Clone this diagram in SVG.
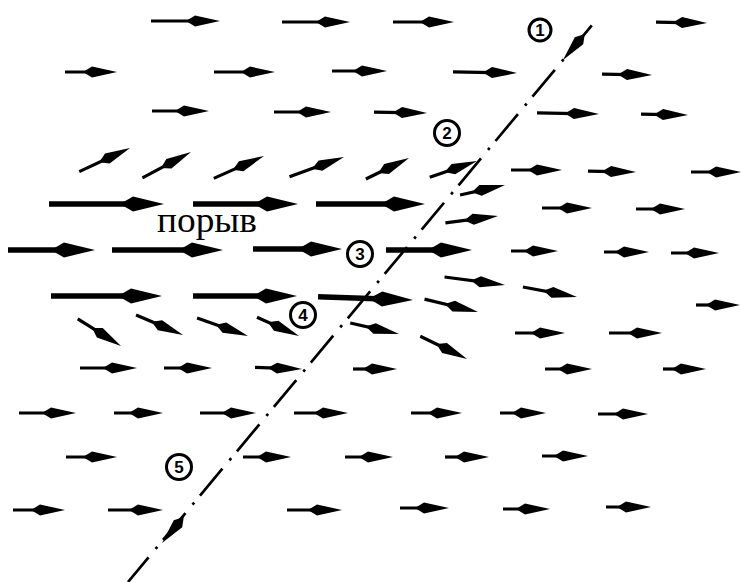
<svg xmlns="http://www.w3.org/2000/svg" xmlns:xlink="http://www.w3.org/1999/xlink" width="741" height="582" viewBox="0 0 741 582">
<style>
.a line{stroke:#000;stroke-width:3.2}
.b line{stroke:#000;stroke-width:5.5}
.lbl circle{fill:#fff;stroke:#000;stroke-width:3}
.lbl text{font-family:"Liberation Sans",Arial,sans-serif;font-size:17px;font-weight:bold;text-anchor:middle}
</style>
<defs>
<path id="h" d="M0,0 L-25,-5.5 L-34,0 L-25,5.5 Z" fill="#000"/>
<path id="H" d="M0,0 L-31,-7.5 L-44,0 L-31,7.5 Z" fill="#000"/>
</defs>
<rect width="741" height="582" fill="#fff"/>

<g id="arrows-normal" class="a">
<g transform="translate(220,21)"><line x1="-69" x2="-12"/><use href="#h"/></g>
<g transform="translate(350,22)"><line x1="-68" x2="-12"/><use href="#h"/></g>
<g transform="translate(454,22)"><line x1="-61" x2="-12"/><use href="#h"/></g>
<g transform="translate(707,23) rotate(1)"><line x1="-51" x2="-12"/><use href="#h"/></g>

<g transform="translate(117,72)"><line x1="-52" x2="-12"/><use href="#h"/></g>
<g transform="translate(275,72)"><line x1="-61" x2="-12"/><use href="#h"/></g>
<g transform="translate(387,71)"><line x1="-55" x2="-12"/><use href="#h"/></g>
<g transform="translate(517,73) rotate(1)"><line x1="-64" x2="-12"/><use href="#h"/></g>
<g transform="translate(652,75) rotate(1)"><line x1="-50" x2="-12"/><use href="#h"/></g>

<g transform="translate(209,111)"><line x1="-57" x2="-12"/><use href="#h"/></g>
<g transform="translate(331,112)"><line x1="-57" x2="-12"/><use href="#h"/></g>
<g transform="translate(427,113) rotate(1)"><line x1="-53" x2="-12"/><use href="#h"/></g>
<g transform="translate(599,114) rotate(1)"><line x1="-62" x2="-12"/><use href="#h"/></g>
<g transform="translate(688,115) rotate(1)"><line x1="-47" x2="-12"/><use href="#h"/></g>

<g transform="translate(130,148) rotate(-25)"><line x1="-56" x2="-12"/><use href="#h"/></g>
<g transform="translate(191,152) rotate(-28)"><line x1="-55" x2="-12"/><use href="#h"/></g>
<g transform="translate(264,156) rotate(-24)"><line x1="-55" x2="-12"/><use href="#h"/></g>
<g transform="translate(344,157) rotate(-20)"><line x1="-58" x2="-12"/><use href="#h"/></g>
<g transform="translate(409,158) rotate(-26)"><line x1="-48" x2="-12"/><use href="#h"/></g>
<g transform="translate(477,161) rotate(-19)"><line x1="-50" x2="-12"/><use href="#h"/></g>
<g transform="translate(562,170)"><line x1="-51" x2="-12"/><use href="#h"/></g>
<g transform="translate(636,172) rotate(1)"><line x1="-48" x2="-12"/><use href="#h"/></g>
<g transform="translate(741,172)"><line x1="-50" x2="-12"/><use href="#h"/></g>
<g transform="translate(505,185) rotate(-12.5)"><line x1="-46" x2="-12"/><use href="#h"/></g>

<g transform="translate(498,216) rotate(-7.5)"><line x1="-53" x2="-12"/><use href="#h"/></g>
<g transform="translate(592,208)"><line x1="-50" x2="-12"/><use href="#h"/></g>
<g transform="translate(685,209)"><line x1="-49" x2="-12"/><use href="#h"/></g>

<g transform="translate(558,251)"><line x1="-47" x2="-12"/><use href="#h"/></g>
<g transform="translate(649,252)"><line x1="-45" x2="-12"/><use href="#h"/></g>
<g transform="translate(719,253)"><line x1="-48" x2="-12"/><use href="#h"/></g>

<g transform="translate(505,285) rotate(7.5)"><line x1="-61" x2="-12"/><use href="#h"/></g>
<g transform="translate(577,297) rotate(10.5)"><line x1="-55" x2="-12"/><use href="#h"/></g>
<g transform="translate(740,305)"><line x1="-44" x2="-12"/><use href="#h"/></g>
<g transform="translate(478,312) rotate(13.5)"><line x1="-55" x2="-12"/><use href="#h"/></g>

<g transform="translate(121,346) rotate(32)"><line x1="-51" x2="-12"/><use href="#h"/></g>
<g transform="translate(183,335) rotate(23)"><line x1="-51" x2="-12"/><use href="#h"/></g>
<g transform="translate(248,336) rotate(19.5)"><line x1="-54" x2="-12"/><use href="#h"/></g>
<g transform="translate(299,336) rotate(24)"><line x1="-46" x2="-12"/><use href="#h"/></g>
<g transform="translate(399,334) rotate(12.7)"><line x1="-50" x2="-12"/><use href="#h"/></g>
<g transform="translate(467,359) rotate(26)"><line x1="-52" x2="-12"/><use href="#h"/></g>
<g transform="translate(565,333)"><line x1="-50" x2="-12"/><use href="#h"/></g>
<g transform="translate(662,333)"><line x1="-53" x2="-12"/><use href="#h"/></g>

<g transform="translate(137,368)"><line x1="-57" x2="-12"/><use href="#h"/></g>
<g transform="translate(212,368)"><line x1="-48" x2="-12"/><use href="#h"/></g>
<g transform="translate(302,369) rotate(2)"><line x1="-47" x2="-12"/><use href="#h"/></g>
<g transform="translate(397,369)"><line x1="-44" x2="-12"/><use href="#h"/></g>
<g transform="translate(592,369)"><line x1="-47" x2="-12"/><use href="#h"/></g>
<g transform="translate(706,369)"><line x1="-43" x2="-12"/><use href="#h"/></g>

<g transform="translate(76,413)"><line x1="-57" x2="-12"/><use href="#h"/></g>
<g transform="translate(163,413)"><line x1="-49" x2="-12"/><use href="#h"/></g>
<g transform="translate(256,413)"><line x1="-56" x2="-12"/><use href="#h"/></g>
<g transform="translate(348,413)"><line x1="-54" x2="-12"/><use href="#h"/></g>
<g transform="translate(462,413)"><line x1="-51" x2="-12"/><use href="#h"/></g>
<g transform="translate(546,413)"><line x1="-46" x2="-12"/><use href="#h"/></g>
<g transform="translate(648,414)"><line x1="-50" x2="-12"/><use href="#h"/></g>

<g transform="translate(117,457)"><line x1="-51" x2="-12"/><use href="#h"/></g>
<g transform="translate(291,457)"><line x1="-48" x2="-12"/><use href="#h"/></g>
<g transform="translate(393,457)"><line x1="-48" x2="-12"/><use href="#h"/></g>
<g transform="translate(489,457)"><line x1="-44" x2="-12"/><use href="#h"/></g>
<g transform="translate(588,456)"><line x1="-46" x2="-12"/><use href="#h"/></g>

<g transform="translate(65,510)"><line x1="-52" x2="-12"/><use href="#h"/></g>
<g transform="translate(163,510)"><line x1="-55" x2="-12"/><use href="#h"/></g>
<g transform="translate(342,510)"><line x1="-55" x2="-12"/><use href="#h"/></g>
<g transform="translate(449,508)"><line x1="-49" x2="-12"/><use href="#h"/></g>
<g transform="translate(550,509)"><line x1="-47" x2="-12"/><use href="#h"/></g>
<g transform="translate(651,507)"><line x1="-45" x2="-12"/><use href="#h"/></g>
</g>

<g id="arrows-gust" class="b">
<g transform="translate(164,204)"><line x1="-115" x2="-15"/><use href="#H"/></g>
<g transform="translate(298,204)"><line x1="-105" x2="-15"/><use href="#H"/></g>
<g transform="translate(425,204)"><line x1="-109" x2="-15"/><use href="#H"/></g>
<g transform="translate(95,250)"><line x1="-87" x2="-15"/><use href="#H"/></g>
<g transform="translate(223,250)"><line x1="-111" x2="-15"/><use href="#H"/></g>
<g transform="translate(342,249)"><line x1="-89" x2="-15"/><use href="#H"/></g>
<g transform="translate(472,250)"><line x1="-86" x2="-15"/><use href="#H"/></g>
<g transform="translate(162,296)"><line x1="-111" x2="-15"/><use href="#H"/></g>
<g transform="translate(297,296)"><line x1="-104" x2="-15"/><use href="#H"/></g>
<g transform="translate(413,300) rotate(2)"><line x1="-95" x2="-15"/><use href="#H"/></g>
</g>

<g id="connectors">
<path d="M598,18 L128,582" fill="none" stroke="#000" stroke-width="2.7" stroke-dasharray="35 9 2.7 11" stroke-dashoffset="48"/>
<use href="#h" transform="translate(563,60) rotate(129.8)"/>
<use href="#h" transform="translate(162,543) rotate(129.8)"/>
</g>

<text x="157" y="232" font-family="'Liberation Serif','Times New Roman',serif" font-size="35" textLength="100" lengthAdjust="spacingAndGlyphs">порыв</text>

<g id="n1" class="lbl"><circle cx="540" cy="30" r="11"/><text x="540" y="36">1</text></g>
<g id="n2" class="lbl"><circle cx="447" cy="133" r="12.5"/><text x="447" y="139">2</text></g>
<g id="n3" class="lbl"><circle cx="360" cy="254" r="12.5"/><text x="360" y="260">3</text></g>
<g id="n4" class="lbl"><circle cx="303" cy="315" r="12.5"/><text x="303" y="321">4</text></g>
<g id="n5" class="lbl"><circle cx="179" cy="467" r="12.5"/><text x="179" y="473">5</text></g>
</svg>
